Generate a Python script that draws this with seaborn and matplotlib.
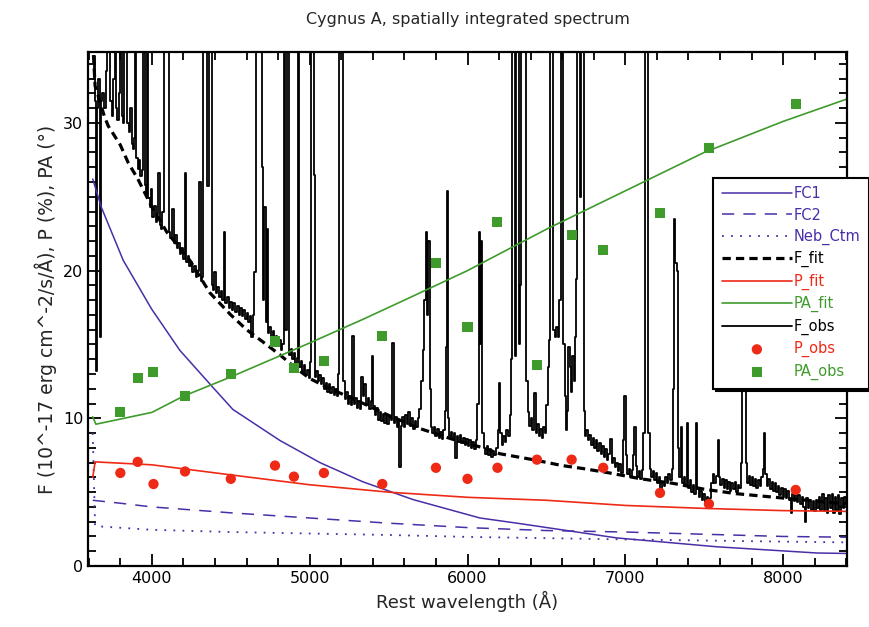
import matplotlib
matplotlib.use("Agg")
import numpy as np
import pandas as pd
import seaborn as sns
import matplotlib.pyplot as plt
from matplotlib.ticker import MultipleLocator

# --- data ---

# observed flux spectrum (step curve), off-scale lines given as 60
fobs_wave = [
    3625, 3635, 3645, 3650, 3656, 3664, 3672, 3678, 3690, 3700,
    3712, 3722, 3732, 3742, 3752, 3760, 3768, 3776, 3786, 3796,
    3804, 3812, 3822, 3830, 3840, 3848, 3858, 3868, 3876, 3884,
    3892, 3898, 3904, 3914, 3922, 3932, 3942, 3950, 3958, 3966,
    3974, 3982, 3990, 3998, 4008, 4018, 4028, 4036, 4045, 4053,
    4062, 4070, 4078, 4086, 4094, 4102, 4110, 4120, 4133, 4142,
    4152, 4162, 4172, 4182, 4192, 4202, 4212, 4220, 4232, 4242,
    4252, 4262, 4272, 4282, 4292, 4304, 4312, 4322, 4330, 4338,
    4346, 4356, 4366, 4374, 4382, 4390, 4400, 4410, 4420, 4430,
    4440, 4450, 4462, 4470, 4482, 4492, 4502, 4512, 4522, 4532,
    4545, 4555, 4565, 4575, 4585, 4595, 4605, 4615, 4625, 4635,
    4645, 4655, 4665, 4675, 4683, 4692, 4700, 4708, 4716, 4724,
    4732, 4740, 4750, 4760, 4770, 4780, 4790, 4800, 4810, 4820,
    4830, 4840, 4848, 4858, 4866, 4874, 4884, 4894, 4904, 4914,
    4922, 4930, 4938, 4948, 4958, 4968, 4978, 4988, 4998, 5006,
    5014, 5022, 5028, 5036, 5046, 5056, 5066, 5076, 5086, 5096,
    5106, 5116, 5126, 5136, 5146, 5156, 5166, 5176, 5184, 5192,
    5200, 5208, 5216, 5226, 5236, 5246, 5256, 5266, 5274, 5282,
    5292, 5302, 5312, 5322, 5332, 5342, 5352, 5362, 5372, 5380,
    5392, 5400, 5408, 5418, 5428, 5438, 5448, 5458, 5468, 5478,
    5488, 5498, 5508, 5518, 5528, 5536, 5546, 5556, 5564, 5572,
    5580, 5590, 5600, 5610, 5620, 5630, 5640, 5650, 5660, 5670,
    5680, 5690, 5700, 5710, 5720, 5730, 5740, 5748, 5756, 5764,
    5772, 5782, 5792, 5802, 5812, 5822, 5832, 5842, 5852, 5860,
    5866, 5872, 5880, 5888, 5898, 5908, 5918, 5928, 5936, 5946,
    5956, 5966, 5976, 5986, 5996, 6006, 6016, 6026, 6036, 6046,
    6056, 6066, 6074, 6082, 6090, 6098, 6106, 6116, 6126, 6136,
    6146, 6156, 6166, 6176, 6186, 6196, 6204, 6212, 6222, 6232,
    6242, 6252, 6262, 6272, 6280, 6288, 6296, 6304, 6312, 6320,
    6328, 6336, 6344, 6352, 6360, 6368, 6376, 6386, 6396, 6406,
    6416, 6428, 6436, 6446, 6456, 6466, 6476, 6486, 6496, 6504,
    6512, 6518, 6524, 6532, 6540, 6548, 6558, 6568, 6578, 6588,
    6596, 6604, 6612, 6620, 6628, 6636, 6644, 6652, 6660, 6668,
    6676, 6684, 6692, 6700, 6708, 6716, 6724, 6732, 6740, 6748,
    6758, 6768, 6778, 6788, 6798, 6808, 6818, 6828, 6838, 6848,
    6858, 6868, 6878, 6888, 6898, 6910, 6918, 6928, 6938, 6948,
    6958, 6968, 6978, 6990, 6998, 7006, 7016, 7026, 7036, 7046,
    7054, 7062, 7070, 7080, 7090, 7100, 7110, 7118, 7126, 7134,
    7142, 7150, 7158, 7168, 7178, 7188, 7198, 7208, 7218, 7228,
    7238, 7248, 7258, 7268, 7278, 7288, 7298, 7306, 7314, 7322,
    7330, 7338, 7346, 7356, 7364, 7374, 7384, 7394, 7402, 7412,
    7422, 7432, 7442, 7452, 7460, 7470, 7480, 7490, 7500, 7510,
    7520, 7530, 7540, 7550, 7560, 7570, 7580, 7590, 7598, 7608,
    7618, 7628, 7638, 7648, 7658, 7668, 7678, 7688, 7698, 7708,
    7718, 7728, 7736, 7744, 7752, 7760, 7768, 7776, 7786, 7796,
    7806, 7816, 7826, 7836, 7846, 7856, 7866, 7876, 7884, 7892,
    7902, 7912, 7922, 7932, 7942, 7952, 7962, 7972, 7982, 7992,
    8002, 8012, 8022, 8032, 8042, 8052, 8062, 8072, 8082, 8092,
    8102, 8112, 8122, 8132, 8142, 8152, 8162, 8172, 8182, 8192,
    8202, 8212, 8222, 8232, 8242, 8252, 8262, 8272, 8282, 8292,
    8302, 8312, 8322, 8332, 8342, 8352, 8362, 8372, 8382, 8392,
    8402,
]
fobs_flux = [
    33.0, 34.5, 31.5, 13.2, 31.0, 33.0, 15.5, 31.5, 32.0, 31.0,
    33.5, 60, 60, 31.5, 30.5, 33.0, 60, 31.0, 30.2, 32.0,
    60, 30.5, 30.0, 60, 60, 30.0, 29.4, 31.0, 28.6, 28.2,
    29.0, 60, 27.6, 26.9, 27.5, 26.4, 26.8, 60, 25.8, 25.2,
    60, 24.9, 24.3, 25.5, 23.6, 24.4, 23.3, 23.8, 26.6, 23.1,
    22.8, 24.0, 60, 60, 60, 60, 22.6, 22.2, 24.2, 21.9,
    22.4, 21.5, 21.9, 21.1, 21.5, 20.8, 26.6, 20.6, 21.0, 20.3,
    20.6, 19.9, 20.3, 19.6, 20.0, 26.0, 19.3, 19.6, 60, 60,
    40, 25.7, 60, 60, 19.0, 18.7, 19.9, 18.5, 18.9, 18.2,
    18.6, 18.0, 22.6, 17.8, 18.2, 17.5, 17.9, 17.3, 17.8, 17.2,
    17.6, 17.0, 17.5, 16.9, 17.3, 16.7, 17.1, 16.5, 16.9, 15.5,
    17.0, 19.9, 60, 60, 60, 60, 27.0, 18.0, 24.3, 16.5,
    22.8, 15.8, 16.2, 15.5, 15.9, 15.2, 15.6, 14.9, 15.3, 14.6,
    15.0, 60, 16.0, 60, 60, 14.3, 14.7, 14.0, 14.4, 13.7,
    14.1, 60, 13.5, 13.9, 13.2, 13.6, 12.9, 13.3, 12.7, 13.8,
    60, 60, 26.5, 12.8, 13.2, 12.5, 12.9, 12.3, 12.7, 12.0,
    12.4, 11.8, 12.3, 11.7, 12.1, 11.6, 12.0, 11.5, 13.0, 60,
    60, 60, 12.5, 11.3, 11.8, 11.0, 11.5, 10.9, 15.6, 11.0,
    11.4, 10.7, 11.2, 10.6, 12.8, 11.5, 12.3, 10.9, 11.4, 10.6,
    11.2, 14.2, 10.8, 10.2, 10.7, 9.9, 10.4, 9.8, 10.3, 9.7,
    10.2, 9.6, 10.1, 9.9, 15.1, 9.7, 10.1, 9.4, 9.9, 6.7,
    9.5, 10.1, 9.4, 10.2, 9.6, 10.4, 9.5, 10.0, 9.3, 9.8,
    9.4, 10.0, 10.6, 12.5, 14.6, 18.0, 22.6, 17.0, 22.0, 12.0,
    9.4, 9.0, 9.4, 8.8, 9.3, 8.7, 9.1, 8.6, 9.2, 10.5,
    14.8, 25.4, 10.0, 8.8, 9.1, 8.6, 9.0, 7.3, 8.8, 8.4,
    8.9, 8.3, 8.7, 8.2, 8.6, 8.1, 8.5, 8.0, 8.4, 7.9,
    8.5, 11.0, 22.6, 15.0, 22.0, 9.0, 8.0, 7.6, 8.1, 7.5,
    7.9, 7.4, 7.8, 7.5, 8.0, 9.2, 12.4, 9.0, 8.2, 8.8,
    8.4, 9.2, 8.8, 10.2, 14.0, 60, 60, 14.2, 60, 60,
    15.0, 19.0, 60, 60, 60, 60, 12.5, 10.4, 9.5, 10.0,
    9.2, 11.7, 9.0, 9.6, 8.8, 9.3, 8.7, 9.4, 9.0, 10.9,
    13.5, 15.3, 60, 60, 60, 16.0, 15.5, 16.2, 15.5, 18.0,
    60, 60, 15.0, 11.5, 9.2, 10.5, 14.8, 13.5, 11.8, 14.2,
    12.5, 15.5, 19.4, 60, 60, 25.0, 60, 60, 10.5, 8.8,
    9.2, 8.5, 8.9, 8.2, 8.7, 8.0, 8.5, 7.8, 8.3, 7.6,
    8.1, 7.4, 7.9, 7.2, 7.6, 8.6, 7.0, 7.3, 6.7, 7.0,
    6.4, 6.9, 6.3, 8.5, 11.5, 7.5, 6.2, 6.6, 6.0, 6.5,
    7.5, 9.4, 6.8, 6.0, 6.4, 5.9, 6.5, 9.0, 60, 60,
    60, 9.0, 6.6, 6.0, 6.4, 5.8, 6.3, 5.6, 6.0, 5.2,
    5.7, 5.4, 6.0, 5.6, 6.2, 5.8, 6.6, 12.0, 23.5, 20.5,
    20.0, 8.0, 6.0, 9.4, 5.6, 6.0, 5.4, 9.7, 5.3, 5.8,
    5.0, 5.5, 4.9, 9.7, 5.2, 4.7, 5.1, 4.5, 4.9, 4.3,
    4.7, 4.0, 4.6, 5.6, 6.2, 5.6, 6.1, 8.5, 6.0, 5.5,
    5.9, 5.3, 5.8, 5.2, 5.7, 5.1, 5.6, 5.2, 5.7, 5.0,
    5.5, 5.3, 7.0, 14.5, 12.0, 14.5, 7.0, 5.6, 6.1, 5.5,
    6.0, 5.4, 5.9, 5.3, 5.8, 5.4, 6.0, 6.6, 9.0, 6.2,
    5.4, 5.9, 5.2, 5.7, 5.1, 5.6, 5.0, 5.4, 4.8, 5.3,
    4.7, 5.2, 4.6, 5.1, 4.5, 3.6, 4.9, 4.4, 5.0, 4.3,
    4.8, 4.2, 4.7, 4.0, 3.0, 4.6, 3.9, 4.5, 3.8, 4.4,
    3.7, 4.5, 3.9, 4.7, 3.8, 4.9, 3.7, 4.6, 3.6, 4.8,
    3.9, 4.9, 3.6, 4.7, 3.8, 4.8, 3.5, 4.6, 3.9, 4.7,
    4.1,
]

# fitted total flux
ffit_wave = [3625, 3640, 3700, 3723, 3800, 3850, 3911, 4000, 4095, 4240, 4367, 4500, 4600,
             4700, 4811, 4900, 5000, 5109, 5300, 5500, 5700, 5900, 6100, 6205, 6415, 6600,
             6731, 6900, 7100, 7300, 7500, 7700, 7900, 8100, 8400]
ffit_flux = [35.5, 32.5, 30.4, 29.8, 28.5, 27.3, 26.2, 24.3, 22.6, 20.7, 18.5, 17.0, 16.0,
             15.2, 14.3, 13.5, 12.7, 12.1, 11.2, 10.2, 9.3, 8.6, 8.0, 7.6, 7.2, 6.8,
             6.6, 6.3, 5.9, 5.6, 5.2, 4.9, 4.7, 4.5, 4.2]

# components
fc1_wave = [3625, 3681, 3818, 3998, 4177, 4386, 4513, 4811, 5065, 5337, 5654, 6079, 6313,
            6947, 7581, 8215, 8400]
fc1_flux = [26.2, 24.25, 20.7, 17.4, 14.6, 12.1, 10.6, 8.5, 7.0, 5.7, 4.5, 3.25, 2.9,
            1.9, 1.3, 0.88, 0.85]
fc2_wave = [3625, 3800, 4000, 4500, 5000, 5500, 6000, 6500, 7000, 7500, 8000, 8400]
fc2_flux = [4.45, 4.25, 4.0, 3.6, 3.25, 2.9, 2.6, 2.4, 2.3, 2.15, 2.0, 1.95]
neb_wave = [3625, 3640, 4000, 4500, 5000, 5500, 6000, 7000, 8000, 8400]
neb_flux = [9.0, 2.7, 2.45, 2.3, 2.2, 2.1, 1.97, 1.8, 1.65, 1.6]

# polarization fits
pfit_wave = [3625, 3640, 4000, 4500, 5000, 5500, 6000, 6500, 7000, 7500, 8000, 8400]
pfit_flux = [6.0, 7.05, 6.85, 6.17, 5.5, 5.0, 4.65, 4.45, 4.1, 3.9, 3.75, 3.7]
pafit_wave = [3625, 3645, 4000, 4200, 4500, 5000, 5337, 5600, 6000, 6500, 7000, 7500,
              8000, 8400]
pafit_val = [10.1, 9.6, 10.4, 11.5, 12.8, 15.1, 16.7, 18.0, 20.0, 22.8, 25.4, 28.0,
             30.1, 31.6]

# observed polarization points
obs_wave = [3800, 3910, 4010, 4210, 4500, 4780, 4900, 5090, 5460, 5800, 6000, 6190,
            6440, 6660, 6860, 7220, 7530, 8080]
p_obs = [6.3, 7.05, 5.55, 6.4, 5.9, 6.8, 6.05, 6.3, 5.55, 6.65, 5.9, 6.65,
         7.2, 7.2, 6.65, 4.95, 4.2, 5.15]
pa_obs = [10.45, 12.7, 13.15, 11.5, 13.0, 15.2, 13.4, 13.9, 15.6, 20.5, 16.2, 23.3,
          13.6, 22.4, 21.4, 23.9, 28.3, 31.3]

purple = '#4a2ea8'
red = '#ee2a16'
green = '#3f9b2c'

sns.set_style('ticks')
plt.rcParams['font.family'] = ['DejaVu Sans']

fig = plt.figure(figsize=(8.69, 6.27), dpi=100)
ax = fig.add_axes([88 / 869, 61 / 627, 759 / 869, 514 / 627])

handles = {}

def add_line(x, y, name, **kw):
    sns.lineplot(x=x, y=y, ax=ax, estimator=None, sort=False, **kw)
    handles[name] = ax.lines[-1]

add_line(fobs_wave, fobs_flux, 'F_obs', color='black', lw=1.3, drawstyle='steps-mid')
add_line(ffit_wave, ffit_flux, 'F_fit', color='black', lw=2.3, linestyle=(0, (2.6, 1.6)))
add_line(fc1_wave, fc1_flux, 'FC1', color=purple, lw=1.1)
add_line(fc2_wave, fc2_flux, 'FC2', color=purple, lw=1.1, linestyle=(0, (8, 6)))
add_line(neb_wave, neb_flux, 'Neb_Ctm', color=purple, lw=1.3, linestyle=(0, (1, 4)))
add_line(pfit_wave, pfit_flux, 'P_fit', color=red, lw=1.2)
add_line(pafit_wave, pafit_val, 'PA_fit', color=green, lw=1.2)

sns.scatterplot(x=obs_wave, y=p_obs, ax=ax, color=red, marker='o', s=55,
                edgecolor='none', zorder=5)
handles['P_obs'] = ax.collections[-1]
sns.scatterplot(x=obs_wave, y=pa_obs, ax=ax, color=green, marker='s', s=52,
                edgecolor='none', zorder=5)
handles['PA_obs'] = ax.collections[-1]

ax.set_xlim(3595, 8405)
ax.set_ylim(0, 34.8)
ax.xaxis.set_major_locator(MultipleLocator(1000))
ax.xaxis.set_minor_locator(MultipleLocator(200))
ax.yaxis.set_major_locator(MultipleLocator(10))
ax.yaxis.set_minor_locator(MultipleLocator(1))
ax.tick_params(which='both', direction='in', top=True, right=True, width=1.3,
               labelsize=11.5, colors='black')
ax.tick_params(which='major', length=9)
ax.tick_params(which='minor', length=6)
for s in ax.spines.values():
    s.set_linewidth(1.6)
    s.set_color('black')

ax.set_title('Cygnus A, spatially integrated spectrum', fontsize=11.5, pad=20)
ax.set_xlabel('Rest wavelength (Å)', fontsize=13)
ax.set_ylabel('F (10^-17 erg cm^-2/s/Å), P (%), PA (°)', fontsize=13.5, labelpad=4)

order = ['FC1', 'FC2', 'Neb_Ctm', 'F_fit', 'P_fit', 'PA_fit', 'F_obs', 'P_obs', 'PA_obs']
label_colors = [purple, purple, purple, 'black', red, green, 'black', red, green]
leg = ax.legend([handles[k] for k in order], order, loc='upper left',
                bbox_to_anchor=(0.814, 0.77), fontsize=10.5, labelcolor=label_colors,
                handlelength=4.8, handletextpad=0.1, labelspacing=0.43, borderpad=0.6,
                fancybox=False, framealpha=1, edgecolor='black', scatterpoints=1,
                shadow={'color': 'black', 'alpha': 1})
leg.get_frame().set_linewidth(1.5)
leg.set_zorder(20)

fig.savefig('out.png', dpi=100)
